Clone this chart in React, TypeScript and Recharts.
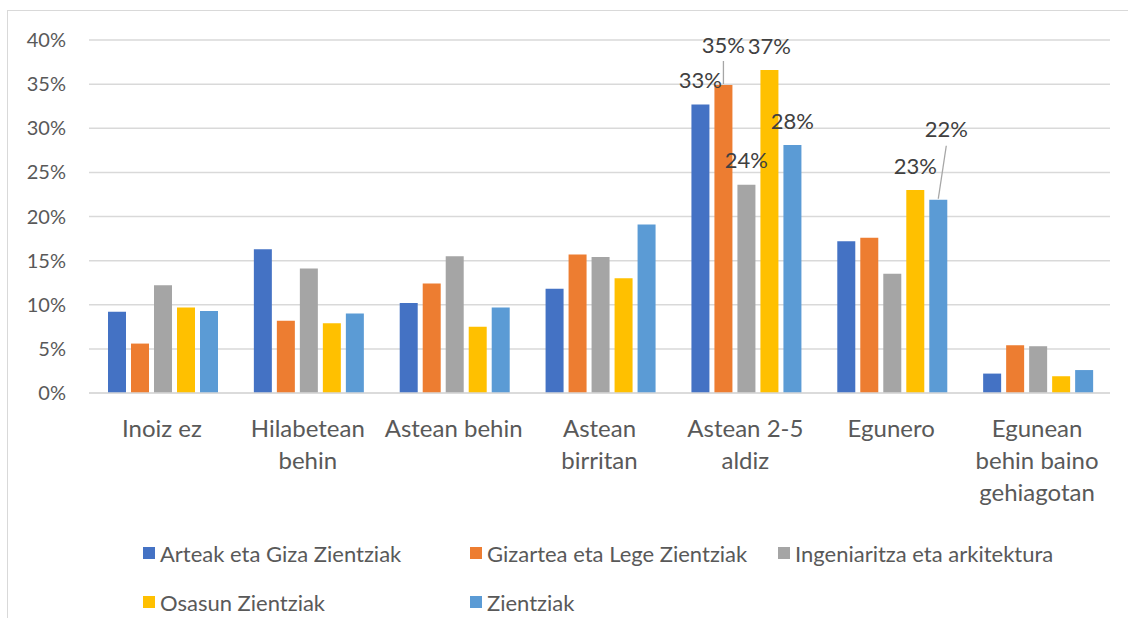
import { BarChart, Bar, XAxis, YAxis, CartesianGrid, Legend, LabelList } from "recharts";

const CATEGORIES = [
  "Inoiz ez",
  "Hilabetean behin",
  "Astean behin",
  "Astean birritan",
  "Astean 2-5 aldiz",
  "Egunero",
  "Egunean behin baino gehiagotan",
];

// how Excel wrapped the category labels
const TICK_LINES = [
  ["Inoiz ez"],
  ["Hilabetean", "behin"],
  ["Astean behin"],
  ["Astean", "birritan"],
  ["Astean 2-5", "aldiz"],
  ["Egunero"],
  ["Egunean", "behin baino", "gehiagotan"],
];

const ARTEAK = [9.2, 16.3, 10.2, 11.8, 32.7, 17.2, 2.2];
const GIZARTEA = [5.6, 8.2, 12.4, 15.7, 34.9, 17.6, 5.4];
const INGENIARITZA = [12.2, 14.1, 15.5, 15.4, 23.6, 13.5, 5.3];
const OSASUN = [9.7, 7.9, 7.5, 13.0, 36.6, 23.0, 1.9];
const ZIENTZIAK = [9.3, 9.0, 9.7, 19.1, 28.1, 21.9, 2.6];

const Y_TICKS = [0, 5, 10, 15, 20, 25, 30, 35, 40];

// only these bars carry a data label in the original
const LABELLED: Record<string, string[]> = {
  arteak: ["Astean 2-5 aldiz"],
  gizartea: ["Astean 2-5 aldiz"],
  ingeniaritza: ["Astean 2-5 aldiz"],
  osasun: ["Astean 2-5 aldiz", "Egunero"],
  zientziak: ["Astean 2-5 aldiz", "Egunero"],
};

const SERIES = [
  { key: "arteak", name: "Arteak eta Giza Zientziak", color: "#4472C4", values: ARTEAK },
  { key: "gizartea", name: "Gizartea eta Lege Zientziak", color: "#ED7D31", values: GIZARTEA },
  { key: "ingeniaritza", name: "Ingeniaritza eta arkitektura", color: "#A5A5A5", values: INGENIARITZA },
  { key: "osasun", name: "Osasun Zientziak", color: "#FFC000", values: OSASUN },
  { key: "zientziak", name: "Zientziak", color: "#5B9BD5", values: ZIENTZIAK },
];

const data = CATEGORIES.map((category, i) => {
  const row: Record<string, string | number> = { category };
  SERIES.forEach((s) => (row[s.key] = s.values[i]));
  return row;
});

const FONT = "Lato, 'Open Sans', sans-serif";
const TEXT = "#595959";

// labels that were dragged away from the bar (with a leader line)
const LABEL_NUDGE: Record<string, { dx: number; dy: number }> = {
  "gizartea|Astean 2-5 aldiz": { dx: 0, dy: -16 },
  "zientziak|Egunero": { dx: 8, dy: -46 },
};

function makeLabel(seriesKey: string) {
  return (props: any) => {
    const idx = props.index;
    if (idx == null) return null;
    const cat = CATEGORIES[idx];
    if (!LABELLED[seriesKey].includes(cat)) return null;
    const vb = props.viewBox ?? props;
    const cx = vb.x + vb.width / 2;
    const top = vb.y;
    const nudge = LABEL_NUDGE[`${seriesKey}|${cat}`];
    const dx = nudge?.dx ?? 0;
    const dy = nudge?.dy ?? 0;
    const lx = cx + dx;
    const ly = top - 25 + dy;
    return (
      <g>
        {nudge && (
          <line x1={lx} y1={ly + 17} x2={cx} y2={top - 1} stroke="#A6A6A6" strokeWidth={1.3} />
        )}
        <text
          x={lx}
          y={ly}
          textAnchor="middle"
          dominantBaseline="central"
          fontSize={22}
          fontFamily={FONT}
          fill="#404040"
        >
          {`${Math.round(Number(props.value))}%`}
        </text>
      </g>
    );
  };
}

function CategoryTick(props: any) {
  const { x, y, payload } = props;
  const idx = CATEGORIES.indexOf(payload.value);
  const lines = TICK_LINES[idx] ?? [payload.value];
  return (
    <text x={x} y={y + 42} textAnchor="middle" fontSize={24} fontFamily={FONT} fill={TEXT}>
      {lines.map((l, i) => (
        <tspan key={i} x={x} dy={i === 0 ? 0 : 32}>
          {l}
        </tspan>
      ))}
    </text>
  );
}

const LEGEND_COLS = [143, 470, 778];
const LEGEND_ROWS = [30, 79];

function LegendBox() {
  return (
    <div style={{ position: "relative", width: 1128, height: 95, fontFamily: FONT }}>
      {SERIES.map((s, i) => (
        <div
          key={s.key}
          style={{
            position: "absolute",
            left: LEGEND_COLS[i % 3],
            top: LEGEND_ROWS[Math.floor(i / 3)] - 14,
            height: 28,
            display: "flex",
            alignItems: "center",
            whiteSpace: "nowrap",
          }}
        >
          <span style={{ width: 12, height: 12, background: s.color, marginRight: 5, display: "inline-block" }} />
          <span style={{ fontSize: 22, color: TEXT }}>{s.name}</span>
        </div>
      ))}
    </div>
  );
}

export default function App() {
  return (
    <div
      style={{
        position: "fixed",
        left: 0,
        top: 0,
        width: 1128,
        height: 618,
        background: "#fff",
        overflow: "hidden",
      }}
    >
      <div
        style={{
          position: "absolute",
          left: 7,
          top: 10,
          width: 1200,
          height: 700,
          borderTop: "1.5px solid #D9D9D9",
          borderLeft: "1.5px solid #D9D9D9",
        }}
      />
      <div style={{ position: "absolute", left: 0, top: 0 }}>
        <BarChart
          width={1128}
          height={618}
          data={data}
          margin={{ top: 40, right: 18, left: 0, bottom: 0 }}
          barCategoryGap={19}
          barGap={5}
        >
          <CartesianGrid vertical={false} stroke="#D9D9D9" strokeWidth={1.5} />
          <XAxis
            dataKey="category"
            height={130}
            axisLine={{ stroke: "#D9D9D9", strokeWidth: 1.5 }}
            tickLine={false}
            tickSize={0}
            interval={0}
            tick={<CategoryTick />}
          />
          <YAxis
            width={89}
            domain={[0, 40]}
            ticks={Y_TICKS}
            axisLine={false}
            tickLine={false}
            tickSize={0}
            tickMargin={23}
            tickFormatter={(v: number) => `${v}%`}
            tick={{ fontSize: 20, fontFamily: FONT, fill: TEXT }}
          />
          <Legend
            verticalAlign="bottom"
            content={() => <LegendBox />}
            wrapperStyle={{ left: 0, width: 1128 }}
          />
          {SERIES.map((s) => (
            <Bar key={s.key} dataKey={s.key} name={s.name} fill={s.color} isAnimationActive={false}>
              <LabelList dataKey={s.key} content={makeLabel(s.key)} />
            </Bar>
          ))}
        </BarChart>
      </div>
    </div>
  );
}
